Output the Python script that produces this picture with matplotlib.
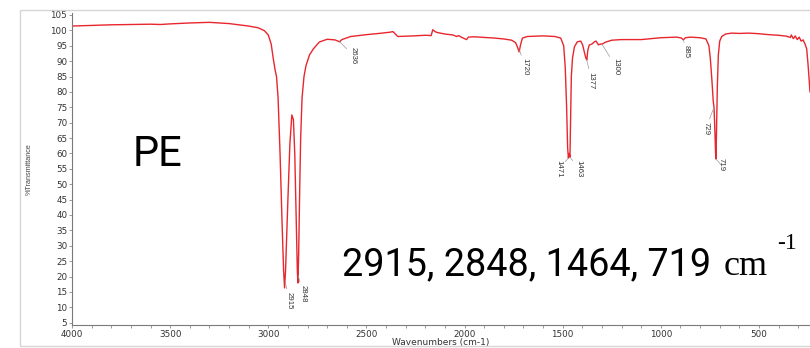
import matplotlib
matplotlib.use("Agg")
import matplotlib.pyplot as plt
import numpy as np
from matplotlib.ticker import MultipleLocator, FixedLocator
from matplotlib.patches import Rectangle

# ---- data ----
wavenumber = [4000, 3900, 3800, 3700, 3600, 3550, 3500, 3400, 3300, 3200, 3100, 3050,
              3020, 3000, 2985, 2975, 2965, 2958, 2950, 2940, 2930, 2922, 2917, 2912,
              2900, 2890, 2880, 2872, 2865, 2858, 2852, 2849, 2845, 2840, 2835, 2828,
              2818, 2808, 2790, 2770, 2740, 2700, 2660, 2645, 2636, 2625, 2580, 2500,
              2420, 2380, 2365, 2340, 2300, 2260, 2200, 2170, 2162, 2150, 2140, 2100,
              2060, 2040, 2030, 2020, 1990, 1980, 1950, 1900, 1850, 1800, 1760, 1740,
              1730, 1722, 1714, 1705, 1680, 1600, 1540, 1510, 1495, 1487, 1480, 1475,
              1471, 1467, 1463, 1460, 1456, 1450, 1440, 1425, 1408, 1398, 1390, 1382,
              1377, 1372, 1365, 1350, 1338, 1330, 1318, 1305, 1300, 1280, 1250, 1200,
              1100, 1000, 920, 895, 885, 875, 850, 800, 770, 755, 748, 740, 733, 729,
              725, 721, 719, 716, 712, 707, 700, 690, 670, 640, 600, 550, 500, 450,
              400, 360, 340, 335, 325, 315, 305, 295, 285, 275, 265, 257, 250, 240]
transmittance = [101.4, 101.6, 101.8, 101.9, 102.0, 101.9, 102.1, 102.4, 102.6, 102.2, 101.4, 100.8,
                 99.9, 98.5, 95.5, 91.0, 87.0, 85.0, 78.0, 60.0, 38.0, 22.0, 16.3, 22.0,
                 45.0, 63.0, 72.5, 71.0, 60.0, 40.0, 22.0, 17.9, 28.0, 48.0, 65.0, 78.0,
                 85.0, 88.5, 92.0, 94.0, 96.2, 97.1, 96.9, 96.5, 96.3, 97.0, 98.0, 98.6,
                 99.1, 99.4, 99.6, 98.0, 98.1, 98.2, 98.4, 98.3, 100.2, 99.6, 99.3, 98.8,
                 98.5, 98.0, 98.3, 97.9, 97.0, 97.8, 97.9, 97.7, 97.5, 97.2, 96.8, 96.0,
                 94.5, 93.0, 95.5, 97.5, 98.0, 98.2, 98.0, 97.5, 95.0, 88.0, 75.0, 62.0,
                 58.5, 60.0, 58.8, 70.0, 85.0, 91.0, 94.7, 96.3, 96.5, 95.2, 93.0, 91.0,
                 90.4, 93.5, 95.2, 95.6, 96.3, 96.5, 95.3, 95.6, 95.5, 96.2, 96.8, 97.0,
                 97.0, 97.6, 97.8, 97.5, 96.9, 97.6, 97.8, 97.6, 97.2, 95.0, 91.0, 84.0, 77.0, 75.0,
                 68.0, 60.0, 58.2, 68.0, 82.0, 92.0, 96.5, 98.0, 98.8, 99.1, 99.0, 99.1, 98.9, 98.6,
                 98.4, 98.1, 97.7, 98.5, 97.3, 98.2, 97.0, 97.8, 96.5, 96.9, 95.5, 94.0, 89.0, 80.0]

peak_labels = [2915, 2848, 2636, 1720, 1471, 1463, 1377, 1300, 885, 729, 719]
x_ticks = [4000, 3500, 3000, 2500, 2000, 1500, 1000, 500]
y_ticks = list(range(5, 106, 5))
sample_name = "PE"
key_bands = "2915, 2848, 1464, 719"

# ---- layout (label anchor positions in data units) ----
label_anchor = {2915: (2892, 15.1), 2848: (2823, 17.3), 2636: (2569, 94.7),
                1720: (1692, 91.0), 1471: (1519, 57.9), 1463: (1417, 57.9),
                1377: (1354, 86.6), 1300: (1229, 91.0), 885: (870, 95.2),
                729: (770, 70.3), 719: (694, 58.5)}

W, H = 810, 348
fig = plt.figure(figsize=(W / 100, H / 100), dpi=100)
fig.patch.set_facecolor("white")

# outer light frame
fig.add_artist(Rectangle((20 / W, 1 - 346 / H), 1.2, 336 / H, transform=fig.transFigure,
                         fill=False, edgecolor="#d6d6d6", lw=1.0))

ax = fig.add_axes([72 / W, 23 / H, (W - 72) / W, 312.5 / H])
ax.plot(wavenumber, transmittance, color="#e8262e", lw=1.0)
ax.set_xlim(4000, 240)
ax.set_ylim(4.25, 105.8)

for s in ("top", "right"):
    ax.spines[s].set_visible(False)
for s in ("left", "bottom"):
    ax.spines[s].set_color("#7a7a7a")
    ax.spines[s].set_linewidth(0.8)

ax.xaxis.set_major_locator(FixedLocator(x_ticks))
ax.xaxis.set_minor_locator(MultipleLocator(100))
ax.yaxis.set_major_locator(FixedLocator(y_ticks))
ax.tick_params(axis="both", which="both", direction="out", length=2.2, width=0.6,
               color="#8a8a8a", labelsize=6.3, labelcolor="#333333", pad=1.2)
for lab in ax.get_xticklabels() + ax.get_yticklabels():
    lab.set_family("DejaVu Sans")

ax.set_xlabel("Wavenumbers (cm-1)", fontsize=6.5, color="#333333", labelpad=0.5,
              family="DejaVu Sans")
ax.set_ylabel("%Transmittance", fontsize=5.2, color="#444444", family="Liberation Sans")
ax.yaxis.set_label_coords(-(72 - 33) / (W - 72), 0.5)
ax.xaxis.set_label_coords(0.5, -(338 - 325) / 312.5)

wn_sorted = np.array(wavenumber[::-1], dtype=float)
t_sorted = np.array(transmittance[::-1], dtype=float)
for pk in peak_labels:
    ty = float(np.interp(pk, wn_sorted, t_sorted))
    ax.annotate(str(pk), xy=(pk, ty), xytext=label_anchor[pk], textcoords="data",
                rotation=270, ha="center", va="top", fontsize=5.6, color="#333333",
                family="Liberation Sans",
                arrowprops=dict(arrowstyle="-", color="#9a9a9a", lw=0.5,
                                shrinkA=0, shrinkB=0))

big_font = ["Roboto", "DejaVu Sans"]
fig.text(133 / W, 1 - 166 / H, sample_name, fontsize=30, family=big_font,
         ha="left", va="baseline", color="black")
fig.text(342 / W, 1 - 275 / H, key_bands, fontsize=27.2, family=big_font,
         ha="left", va="baseline", color="black")
fig.text(724 / W, 1 - 275 / H, "cm", fontsize=26, family="Liberation Serif",
         ha="left", va="baseline", color="black")
fig.text(777 / W, 1 - 249 / H, "-1", fontsize=17, family="Liberation Serif",
         ha="left", va="baseline", color="black")

fig.savefig("out.png", dpi=100)
